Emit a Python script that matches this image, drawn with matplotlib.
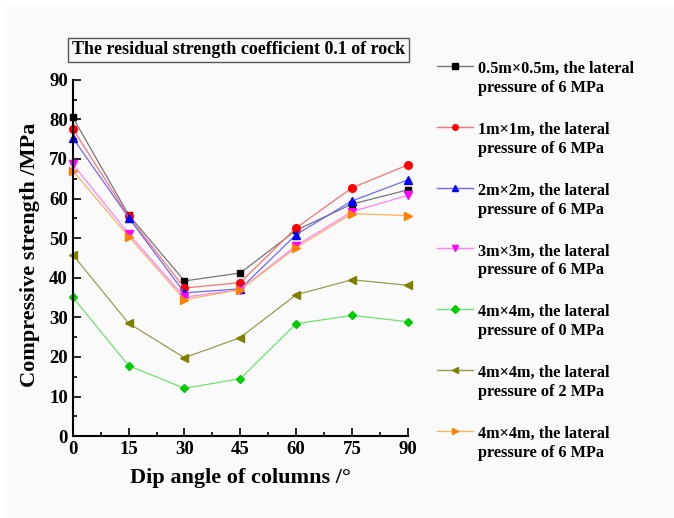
import matplotlib.pyplot as plt
from matplotlib.ticker import MultipleLocator
from matplotlib.patches import Rectangle
from matplotlib.lines import Line2D

plt.rcParams['font.family'] = ['Liberation Serif', 'DejaVu Serif']
plt.rcParams['font.weight'] = 'bold'

angles = [0, 15, 30, 45, 60, 75, 90]

s05_p6 = [80.5, 55.9, 39.2, 41.2, 52.0, 58.6, 62.2]
s1_p6 = [77.6, 55.5, 37.4, 38.8, 52.6, 62.7, 68.5]
s2_p6 = [75.3, 55.2, 36.2, 37.2, 50.9, 59.4, 64.7]
s3_p6 = [68.7, 51.1, 35.1, 37.0, 48.1, 56.7, 60.8]
s4_p0 = [35.1, 17.8, 12.1, 14.5, 28.4, 30.5, 28.9]
s4_p2 = [45.8, 28.5, 19.8, 24.9, 35.7, 39.5, 38.1]
s4_p6 = [67.0, 50.4, 34.5, 37.0, 47.6, 56.2, 55.7]

labels = ['0.5m\u00d70.5m, the lateral\npressure of 6 MPa',
          '1m\u00d71m, the lateral\npressure of 6 MPa',
          '2m\u00d72m, the lateral\npressure of 6 MPa',
          '3m\u00d73m, the lateral\npressure of 6 MPa',
          '4m\u00d74m, the lateral\npressure of 0 MPa',
          '4m\u00d74m, the lateral\npressure of 2 MPa',
          '4m\u00d74m, the lateral\npressure of 6 MPa']

series = [s05_p6, s1_p6, s2_p6, s3_p6, s4_p0, s4_p2, s4_p6]
colors = ['black', '#ff0000', '#0000ff', '#ff00ff', '#00cc00', '#808000', '#ff8000']
line_colors = ['#777777', '#ff7070', '#6a6aff', '#ff80ff', '#70e070', '#9a9a50', '#ffb060']
markers = ['s', 'o', '^', 'v', 'D', '<', '>']
msizes = [5, 5.5, 6, 6, 4.5, 5.5, 5.5]

W, H = 674, 518
fig = plt.figure(figsize=(W / 100, H / 100), dpi=100, facecolor='#fafafa')
fig.patches.append(Rectangle((0, 0.99), 1, 0.01, transform=fig.transFigure,
                             facecolor='white', edgecolor='none'))
fig.patches.append(Rectangle((0, 0), 0.008, 1, transform=fig.transFigure,
                             facecolor='white', edgecolor='none'))
ax = fig.add_axes([0.108, 0.158, 0.497, 0.688])
ax.set_facecolor('#fafafa')

for y, c, lc, m, ms, lab in zip(series, colors, line_colors, markers, msizes, labels):
    ax.plot(angles, y, color=lc, lw=0.9, marker=m, ms=ms,
            markerfacecolor=c, markeredgecolor=c, label=lab, clip_on=False)

ax.set_xlim(0, 90)
ax.set_ylim(0, 90)
ax.xaxis.set_major_locator(MultipleLocator(15))
ax.xaxis.set_minor_locator(MultipleLocator(7.5))
ax.yaxis.set_major_locator(MultipleLocator(10))
ax.yaxis.set_minor_locator(MultipleLocator(5))
ax.tick_params(which='both', direction='in', width=1.2, labelsize=13.5)
ax.tick_params(which='major', length=6)
ax.tick_params(which='minor', length=3)
ax.spines['top'].set_visible(False)
ax.spines['right'].set_visible(False)
ax.spines['left'].set_linewidth(1.5)
ax.spines['bottom'].set_linewidth(1.5)
for t in ax.get_xticklabels() + ax.get_yticklabels():
    t.set_fontweight('bold')

ax.set_xlabel('Dip angle of columns /\u00b0', fontsize=16, fontweight='bold', labelpad=7)
ax.set_ylabel('Compressive strength /MPa', fontsize=16, fontweight='bold')
ax.yaxis.set_label_coords(-0.098, 0.51)

fig.text(72 / W, 1 - 50 / H, 'The residual strength coefficient 0.1 of rock',
         fontsize=13, fontweight='bold', va='center', ha='left',
         bbox=dict(boxstyle='square,pad=0.22', facecolor='#fafafa',
                   edgecolor='#555555', lw=1))

# legend laid out by hand: handle sits level with the first text line
for i, (c, lc, m, lab) in enumerate(zip(colors, line_colors, markers, labels)):
    yh = 1 - (66 + 60.8 * i) / H
    fig.add_artist(Line2D([437 / W, 473 / W], [yh, yh], transform=fig.transFigure,
                          color=lc, lw=1.0))
    fig.add_artist(Line2D([455 / W], [yh], transform=fig.transFigure,
                          marker=m, ms=4, color=c, markeredgecolor=c))
    fig.text(478 / W, yh + 5 / H, lab, fontsize=11.7, fontweight='bold',
             va='top', ha='left', linespacing=1.25)

fig.savefig('out.png', dpi=100, facecolor=fig.get_facecolor())
